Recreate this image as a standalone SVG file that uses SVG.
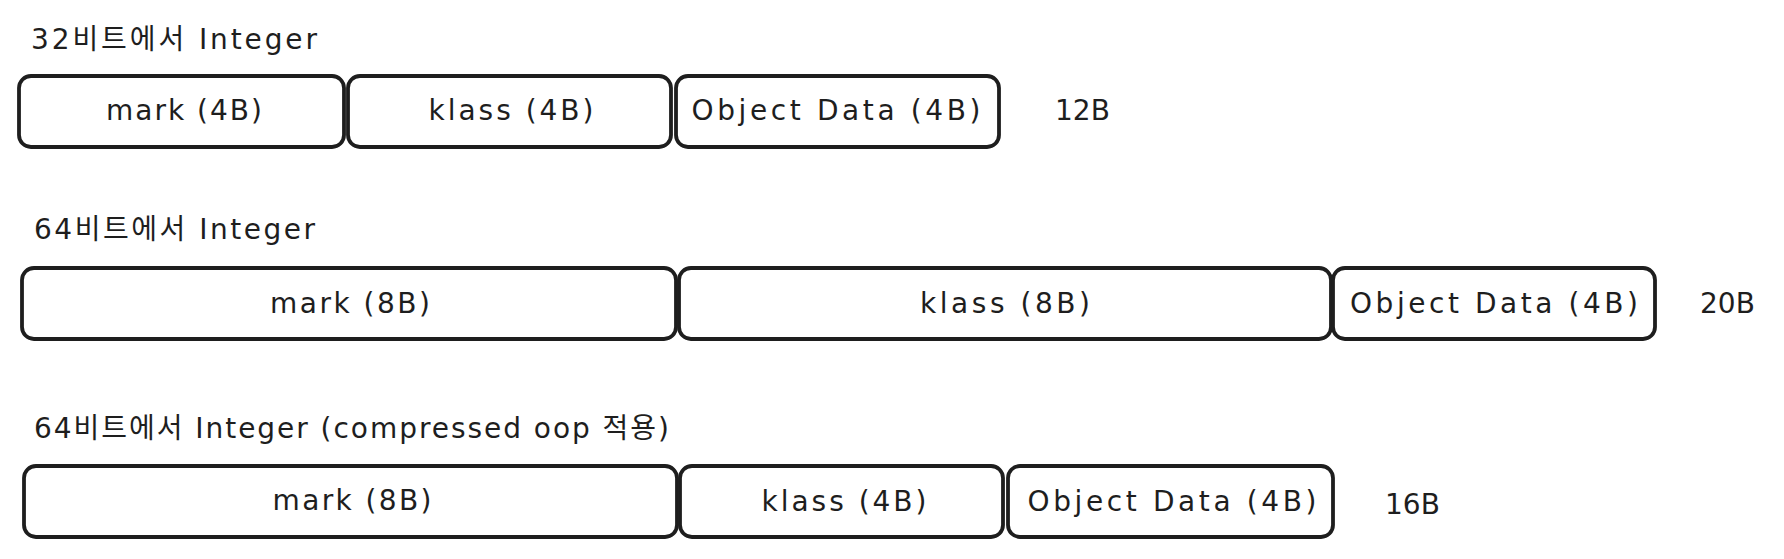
<svg xmlns="http://www.w3.org/2000/svg" width="1784" height="559" viewBox="0 0 1784 559">
<style>
.box{fill:#ffffff;stroke:#1e1e1e;stroke-width:3.8;}
.lbl{font-family:"DejaVu Sans","Noto Sans CJK KR",sans-serif;font-size:28px;fill:#1e1e1e;text-anchor:middle;dominant-baseline:central;}
.ttl{font-family:"DejaVu Sans","Noto Sans CJK KR",sans-serif;font-size:28px;fill:#1e1e1e;dominant-baseline:central;}
.sz{font-family:"DejaVu Sans","Noto Sans CJK KR",sans-serif;font-size:28px;fill:#1e1e1e;dominant-baseline:central;}
</style>
<rect width="1784" height="559" fill="#ffffff"/>
<g id="title1"><text class="ttl" x="31" y="39" textLength="286" lengthAdjust="spacing">32비트에서 Integer</text></g>
<g id="r1-mark"><rect class="box" x="19" y="76" width="325" height="71" rx="12"/><text class="lbl" x="184" y="110" textLength="156" lengthAdjust="spacing">mark (4B)</text></g>
<g id="r1-klass"><rect class="box" x="348" y="76" width="323" height="71" rx="12"/><text class="lbl" x="511" y="110" textLength="165" lengthAdjust="spacing">klass (4B)</text></g>
<g id="r1-data"><rect class="box" x="676" y="76" width="323" height="71" rx="12"/><text class="lbl" x="836" y="110" textLength="289" lengthAdjust="spacing">Object Data (4B)</text></g>
<g id="r1-size"><text class="sz" x="1055" y="110">12B</text></g>

<g id="title2"><text class="ttl" x="34" y="229" textLength="281" lengthAdjust="spacing">64비트에서 Integer</text></g>
<g id="r2-mark"><rect class="box" x="22" y="268" width="654" height="71" rx="12"/><text class="lbl" x="350" y="303" textLength="160" lengthAdjust="spacing">mark (8B)</text></g>
<g id="r2-klass"><rect class="box" x="679" y="268" width="652" height="71" rx="12"/><text class="lbl" x="1005" y="303" textLength="170" lengthAdjust="spacing">klass (8B)</text></g>
<g id="r2-data"><rect class="box" x="1333" y="268" width="322" height="71" rx="12"/><text class="lbl" x="1494" y="303" textLength="288" lengthAdjust="spacing">Object Data (4B)</text></g>
<g id="r2-size"><text class="sz" x="1700" y="303" font-size="30">20B</text></g>

<g id="title3"><text class="ttl" x="34" y="428" textLength="635" lengthAdjust="spacing">64비트에서 Integer (compressed oop 적용)</text></g>
<g id="r3-mark"><rect class="box" x="24" y="466" width="653" height="71" rx="12"/><text class="lbl" x="352" y="500" textLength="159" lengthAdjust="spacing">mark (8B)</text></g>
<g id="r3-klass"><rect class="box" x="680" y="466" width="323" height="71" rx="12"/><text class="lbl" x="844" y="501" textLength="165" lengthAdjust="spacing">klass (4B)</text></g>
<g id="r3-data"><rect class="box" x="1008" y="466" width="325" height="71" rx="12"/><text class="lbl" x="1172" y="501" textLength="289" lengthAdjust="spacing">Object Data (4B)</text></g>
<g id="r3-size"><text class="sz" x="1385" y="504">16B</text></g>
<g id="connectors"></g>
</svg>
